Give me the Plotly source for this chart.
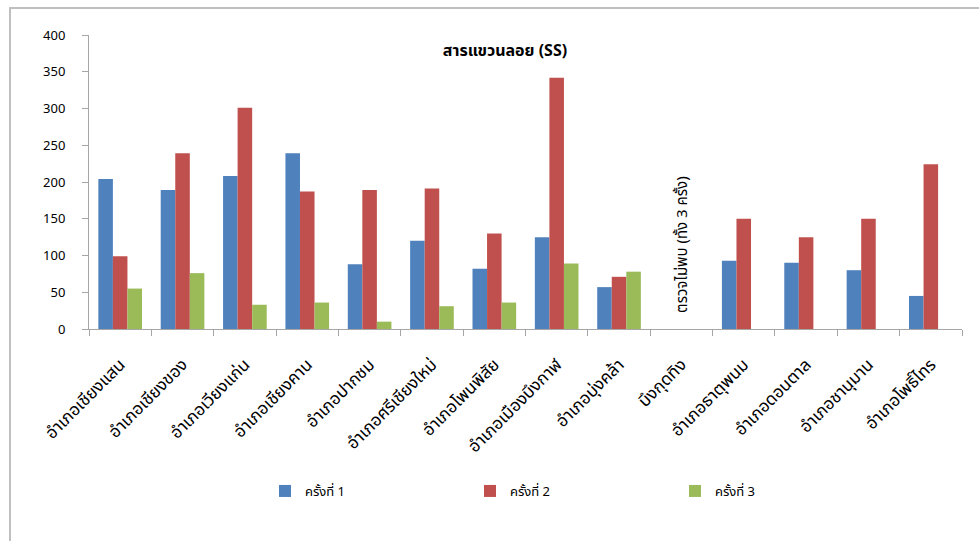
import plotly.graph_objects as go

categories = ["อำเภอเชียงแสน", "อำเภอเชียงของ", "อำเภอเวียงแก่น", "อำเภอเชียงคาน",
              "อำเภอปากชม", "อำเภอศรีเชียงใหม่", "อำเภอโพนพิสัย", "อำเภอเมืองบึงกาฬ",
              "อำเภอบุ่งคล้า", "บึงกุดทิง", "อำเภอธาตุพนม", "อำเภอดอนตาล",
              "อำเภอชานุมาน", "อำเภอโพธิ์ไทร"]
round1 = [204, 189, 208, 239, 88, 120, 82, 125, 57, None, 93, 90, 80, 45]
round2 = [99, 239, 301, 187, 189, 191, 130, 342, 71, None, 150, 125, 150, 224]
round3 = [55, 76, 33, 36, 10, 31, 36, 89, 78, None, None, None, None, None]
series_names = ["ครั้งที่ 1", "ครั้งที่ 2", "ครั้งที่ 3"]
colors = ["#4F81BD", "#C0504D", "#9BBB59"]
title_text = "สารแขวนลอย (SS)"
note_text = "ตรวจไม่พบ (ทั้ง 3 ครั้ง)"
y_ticks = [0, 50, 100, 150, 200, 250, 300, 350, 400]

font_family = "Noto Sans Thai, Tahoma, Arial, Liberation Sans, sans-serif"

W, H = 979, 541
L, R, T, B = 89, 17, 35, 212
PW, PH = W - L - R, H - T - B

fig = go.Figure()
for name, vals, c in zip(series_names, [round1, round2, round3], colors):
    fig.add_trace(go.Bar(x=categories, y=vals, name=name, marker_color=c,
                         marker_line_width=0))

fig.add_annotation(x=categories[9], y=0, yanchor="bottom", xanchor="center",
                   text=note_text, textangle=-90, showarrow=False,
                   font=dict(size=15, color="black"), yshift=14, xshift=1)

fig.update_layout(
    width=W, height=H,
    margin=dict(l=L, r=R, t=T, b=B),
    paper_bgcolor="white", plot_bgcolor="white",
    font=dict(family=font_family, size=12, color="black"),
    title=dict(text="<b>" + title_text + "</b>", x=(505 - L) / PW, xref="paper",
               xanchor="center", y=1 - 50 / H, yanchor="middle",
               font=dict(size=16, color="black")),
    barmode="group", bargap=0.3, bargroupgap=0,
    legend=dict(orientation="h", x=(265 - L) / PW, xanchor="left",
                y=-(491 - 329) / PH, yanchor="middle",
                font=dict(size=13), entrywidth=160, itemwidth=30),
    showlegend=True,
)
fig.update_xaxes(showline=True, linecolor="#A6A6A6", linewidth=1, ticks="outside",
                 ticklen=6, tickcolor="#A6A6A6", tickangle=-45, showgrid=False,
                 tickson="boundaries", tickfont=dict(size=17), ticklabelstandoff=18)
fig.update_yaxes(range=[0, 400], tickvals=y_ticks, showline=True, linecolor="#A6A6A6",
                 linewidth=1, ticks="outside", ticklen=6, tickcolor="#A6A6A6",
                 showgrid=False, zeroline=False, tickfont=dict(size=13),
                 ticklabelstandoff=14)

fig.add_shape(type="rect", xref="paper", yref="paper",
              x0=(10 - L) / PW, x1=(995 - L) / PW,
              y0=-(560 - T - PH) / PH, y1=(T + PH - 8) / PH,
              line=dict(color="#BFBFBF", width=2), layer="below")

fig.write_html("out.html", config={"displayModeBar": False},
               post_script="document.body.style.margin='0px';")
